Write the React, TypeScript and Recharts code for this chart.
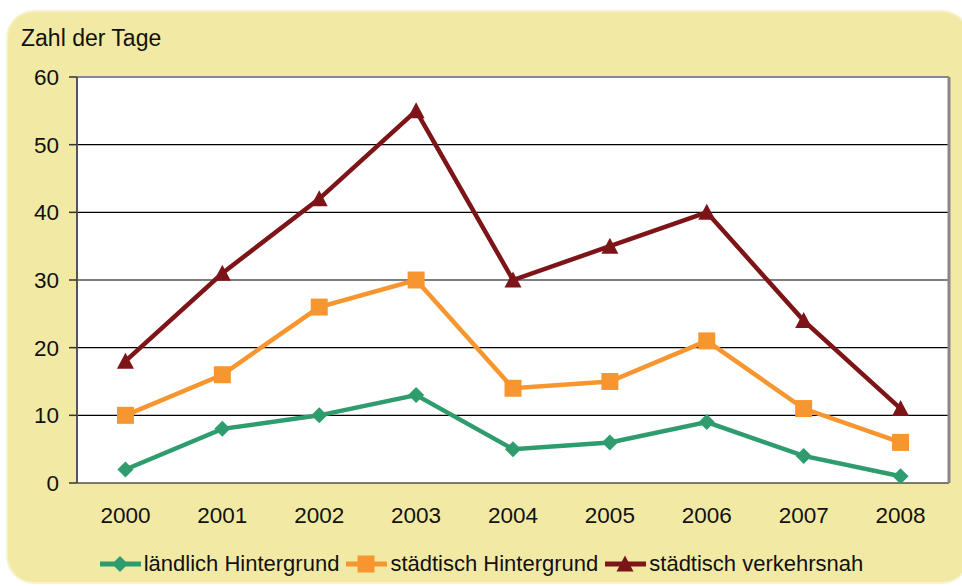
import { LineChart, Line, XAxis, YAxis, CartesianGrid, Legend, ReferenceLine } from 'recharts';

const years = ['2000', '2001', '2002', '2003', '2004', '2005', '2006', '2007', '2008'];
const laendlich = [2, 8, 10, 13, 5, 6, 9, 4, 1];
const staedtischHg = [10, 16, 26, 30, 14, 15, 21, 11, 6];
const verkehrsnah = [18, 31, 42, 55, 30, 35, 40, 24, 11];
const yTicks = [0, 10, 20, 30, 40, 50, 60];

const COLORS = {
  green: '#2f9c6e',
  orange: '#f7962f',
  red: '#7d1418',
};

const FONT = '"Liberation Sans", Arial, sans-serif';

const data = years.map((y, i) => ({
  x: i,
  year: y,
  laendlich: laendlich[i],
  staedtischHg: staedtischHg[i],
  verkehrsnah: verkehrsnah[i],
}));

const centerTicks = years.map((_, i) => i);
const edgeTicks = [...years.map((_, i) => i - 0.5), years.length - 0.5];

type MarkProps = { cx?: number; cy?: number; color: string };

function Diamond({ cx = 0, cy = 0, color }: MarkProps) {
  const r = 8;
  return <path d={`M${cx},${cy - r}L${cx + r},${cy}L${cx},${cy + r}L${cx - r},${cy}Z`} fill={color} />;
}

function Square({ cx = 0, cy = 0, color }: MarkProps) {
  const h = 8.5;
  return <rect x={cx - h} y={cy - h} width={h * 2} height={h * 2} fill={color} />;
}

function Triangle({ cx = 0, cy = 0, color }: MarkProps) {
  const h = 8.5;
  return <path d={`M${cx},${cy - h}L${cx + h},${cy + h - 1}L${cx - h},${cy + h - 1}Z`} fill={color} />;
}

const legendItems = [
  { label: 'ländlich Hintergrund', color: COLORS.green, Mark: Diamond },
  { label: 'städtisch Hintergrund', color: COLORS.orange, Mark: Square },
  { label: 'städtisch verkehrsnah', color: COLORS.red, Mark: Triangle },
];

function LegendContent() {
  return (
    <div style={{ display: 'flex', justifyContent: 'center', alignItems: 'center', fontFamily: FONT, fontSize: 22, color: '#111', paddingLeft: 6 }}>
      {legendItems.map(({ label, color, Mark }) => (
        <div key={label} style={{ display: 'flex', alignItems: 'center', marginRight: 6 }}>
          <svg width={43} height={20} style={{ marginRight: 2 }}>
            <line x1={1} y1={10} x2={42} y2={10} stroke={color} strokeWidth={5} />
            <Mark cx={21} cy={10} color={color} />
          </svg>
          <span>{label}</span>
        </div>
      ))}
    </div>
  );
}

export default function App() {
  return (
    <div style={{ position: 'absolute', left: 0, top: 0, width: 962, height: 586, background: '#fff', overflow: 'hidden' }}>
      <div
        style={{
          position: 'absolute',
          left: 8,
          top: 12,
          width: 960,
          height: 570,
          background: '#f2eaa4',
          borderRadius: 26,
          boxShadow: '0 0 0 2px #f7f2cf',
        }}
      />
      <div style={{ position: 'absolute', left: 21, top: 25, fontFamily: FONT, fontSize: 23, color: '#111' }}>
        Zahl der Tage
      </div>
      <div style={{ position: 'absolute', left: 0, top: 0 }}>
        <LineChart width={962} height={586} data={data} margin={{ top: 77, right: 13, left: 0, bottom: 17 }}>
          <CartesianGrid horizontal vertical={false} stroke="#000" strokeWidth={1.2} fill="#fff" />
          <XAxis
            xAxisId="edges"
            dataKey="x"
            type="number"
            domain={[-0.5, years.length - 0.5]}
            ticks={edgeTicks}
            tick={false}
            tickSize={8}
            height={0}
            axisLine={{ stroke: '#555', strokeWidth: 2 }}
            tickLine={{ stroke: '#333', strokeWidth: 1.5 }}
          />
          <XAxis
            dataKey="x"
            type="number"
            domain={[-0.5, years.length - 0.5]}
            ticks={centerTicks}
            tickFormatter={(v: number) => years[v]}
            axisLine={false}
            tickLine={false}
            tickMargin={18}
            height={60}
            tick={{ fontFamily: FONT, fontSize: 22.5, fill: '#111' }}
          />
          <YAxis
            domain={[0, 60]}
            ticks={yTicks}
            width={77}
            tickSize={8}
            tickMargin={10}
            axisLine={{ stroke: '#555', strokeWidth: 2 }}
            tickLine={{ stroke: '#333', strokeWidth: 1.5 }}
            tick={{ fontFamily: FONT, fontSize: 22.5, fill: '#111' }}
          />
          <ReferenceLine y={60} stroke="#888" strokeWidth={2} />
          <ReferenceLine x={years.length - 0.5} stroke="#888" strokeWidth={3} />
          <Line
            dataKey="laendlich"
            stroke={COLORS.green}
            strokeWidth={4.5}
            isAnimationActive={false}
            dot={(p: any) => <Diamond key={p.index} cx={p.cx} cy={p.cy} color={COLORS.green} />}
          />
          <Line
            dataKey="staedtischHg"
            stroke={COLORS.orange}
            strokeWidth={4.5}
            isAnimationActive={false}
            dot={(p: any) => <Square key={p.index} cx={p.cx} cy={p.cy} color={COLORS.orange} />}
          />
          <Line
            dataKey="verkehrsnah"
            stroke={COLORS.red}
            strokeWidth={4.5}
            isAnimationActive={false}
            dot={(p: any) => <Triangle key={p.index} cx={p.cx} cy={p.cy} color={COLORS.red} />}
          />
          <Legend
            content={<LegendContent />}
            wrapperStyle={{ position: 'absolute', left: 0, top: 551, width: 962 }}
          />
        </LineChart>
      </div>
    </div>
  );
}
